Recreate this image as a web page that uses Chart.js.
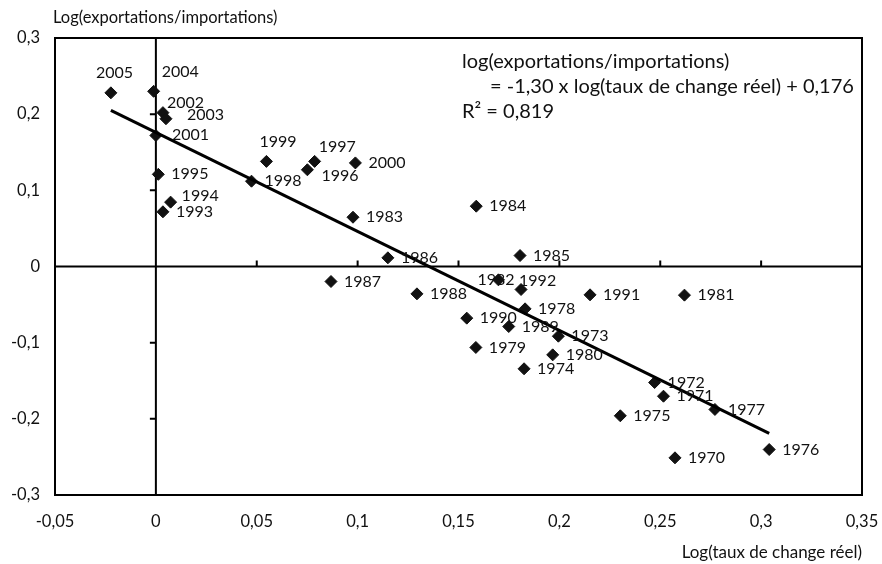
<!DOCTYPE html>
<html>
<head>
<meta charset="utf-8">
<script src="https://cdn.jsdelivr.net/npm/chart.js@4.4.1/dist/chart.umd.min.js"></script>
<style>
html, body { margin: 0; padding: 0; background: #fff; }
</style>
</head>
<body>
<canvas id="chart" width="882" height="564"></canvas>
<script>
// ===== Data =====
const years = [1970, 1971, 1972, 1973, 1974, 1975, 1976, 1977, 1978, 1979,
               1980, 1981, 1982, 1983, 1984, 1985, 1986, 1987, 1988, 1989,
               1990, 1991, 1992, 1993, 1994, 1995, 1996, 1997, 1998, 1999,
               2000, 2001, 2002, 2003, 2004, 2005];
const xVals = [0.2573, 0.2516, 0.2472, 0.1995, 0.1825, 0.2302, 0.3040, 0.2771, 0.1830, 0.1586,
               0.1967, 0.2620, 0.1698, 0.0977, 0.1588, 0.1805, 0.1150, 0.0868, 0.1294, 0.1749,
               0.1541, 0.2152, 0.1810, 0.0035, 0.0073, 0.0012, 0.0751, 0.0787, 0.0474, 0.0548,
               0.0989, 0.0000, 0.0035, 0.0050, -0.0011, -0.0223];
const yVals = [-0.2512, -0.1703, -0.1523, -0.0915, -0.1343, -0.1960, -0.2403, -0.1877, -0.0556, -0.1063,
               -0.1160, -0.0376, -0.0175, 0.0647, 0.0792, 0.0144, 0.0114, -0.0197, -0.0359, -0.0788,
               -0.0678, -0.0372, -0.0302, 0.0718, 0.0845, 0.1210, 0.1270, 0.1380, 0.1120, 0.1380,
               0.1360, 0.1720, 0.2020, 0.1940, 0.2300, 0.2280];
// regression line end points
const trendX = [-0.0223, 0.3040];
const trendY = [0.2050, -0.2190];

const xTicks = [-0.05, 0, 0.05, 0.1, 0.15, 0.2, 0.25, 0.3, 0.35];
const yTicks = [-0.3, -0.2, -0.1, 0, 0.1, 0.2, 0.3];

const yTitle = 'Log(exportations/importations)';
const xTitle = 'Log(taux de change réel)';
const eqLines = ['log(exportations/importations)',
                 '= -1,30 x log(taux de change réel) + 0,176',
                 'R² = 0,819'];

// label placement (offset of text left edge / middle from marker), default is right of marker
const labelOffsets = {
    2005: [-15, -20], 2004: [8, -19], 2002: [4, -10], 2003: [21, -4], 2001: [16, -1],
    1994: [11, -6], 1999: [-7, -20], 1996: [14, 6], 1997: [4, -15],
    1982: [-21, 0], 1992: [-2, -9]
};

const FONT = 'Lato, "DejaVu Sans", sans-serif';
const INK = '#111';
const fmt = v => String(v).replace('.', ',');

Chart.defaults.font.family = FONT;
Chart.defaults.font.size = 16.5;
Chart.defaults.color = INK;

// ===== Custom drawing: axes through zero, frame, labels =====
const decor = {
    id: 'decor',
    beforeDatasetsDraw(chart) {
        const {ctx, chartArea: a, scales: {x, y}} = chart;
        const x0 = x.getPixelForValue(0), y0 = y.getPixelForValue(0);
        ctx.save();
        ctx.strokeStyle = '#000';
        ctx.lineWidth = 2;
        ctx.beginPath();
        ctx.moveTo(x0, a.top); ctx.lineTo(x0, a.bottom);
        ctx.moveTo(a.left, y0); ctx.lineTo(a.right, y0);
        yTicks.forEach(v => {
            const py = y.getPixelForValue(v);
            ctx.moveTo(x0 - 6, py); ctx.lineTo(x0, py);
        });
        xTicks.forEach(v => {
            const px = x.getPixelForValue(v);
            ctx.moveTo(px, y0 - 6); ctx.lineTo(px, y0);
        });
        ctx.stroke();
        ctx.restore();
    },
    afterDraw(chart) {
        const {ctx, chartArea: a} = chart;
        ctx.save();
        ctx.strokeStyle = '#000';
        ctx.lineWidth = 2;
        ctx.strokeRect(a.left, a.top, a.right - a.left, a.bottom - a.top);

        ctx.fillStyle = INK;
        ctx.textBaseline = 'middle';
        ctx.textAlign = 'left';
        ctx.font = '16px ' + FONT;
        const pts = chart.getDatasetMeta(1).data;
        pts.forEach((p, i) => {
            const off = labelOffsets[years[i]] || [13, 0];
            ctx.fillText(String(years[i]), p.x + off[0], p.y + off[1]);
        });

        // axis titles
        ctx.font = '16.5px ' + FONT;
        ctx.fillText(yTitle, 53, 18);
        ctx.textAlign = 'right';
        ctx.font = '17px ' + FONT;
        ctx.fillText(xTitle, a.right, 553);

        // regression equation
        ctx.textAlign = 'left';
        ctx.font = '20px ' + FONT;
        ctx.fillText(eqLines[0], 462, 62);
        ctx.fillText(eqLines[1], 490, 87);
        ctx.fillText(eqLines[2], 462, 112);
        ctx.restore();
    }
};

new Chart(document.getElementById('chart').getContext('2d'), {
    type: 'scatter',
    data: {
        datasets: [
            {
                label: 'Tendance',
                data: trendX.map((v, i) => ({x: v, y: trendY[i]})),
                showLine: true,
                borderColor: '#000',
                borderWidth: 3,
                pointRadius: 0
            },
            {
                label: 'Années',
                data: xVals.map((v, i) => ({x: v, y: yVals[i]})),
                pointStyle: 'rectRot',
                pointRadius: 6,
                backgroundColor: INK,
                borderColor: INK,
                borderWidth: 1
            }
        ]
    },
    options: {
        responsive: false,
        animation: false,
        devicePixelRatio: 1,
        layout: { padding: { top: 38, right: 20, left: 0, bottom: 0 } },
        plugins: { legend: { display: false }, tooltip: { enabled: false } },
        scales: {
            x: {
                type: 'linear', min: -0.05, max: 0.35,
                afterBuildTicks: s => { s.ticks = xTicks.map(v => ({value: v})); },
                afterFit: s => { s.height = 69; s.paddingLeft = 0; s.paddingRight = 0; },
                grid: { display: false, drawTicks: false },
                border: { display: false },
                ticks: { padding: 17, maxRotation: 0, callback: v => fmt(v) }
            },
            y: {
                type: 'linear', min: -0.3, max: 0.3,
                afterBuildTicks: s => { s.ticks = yTicks.map(v => ({value: v})); },
                afterFit: s => { s.width = 55; s.paddingTop = 0; s.paddingBottom = 0; },
                grid: { display: false, drawTicks: false },
                border: { display: false },
                ticks: { padding: 15, callback: v => fmt(v) }
            }
        }
    },
    plugins: [decor]
});
</script>
</body>
</html>
